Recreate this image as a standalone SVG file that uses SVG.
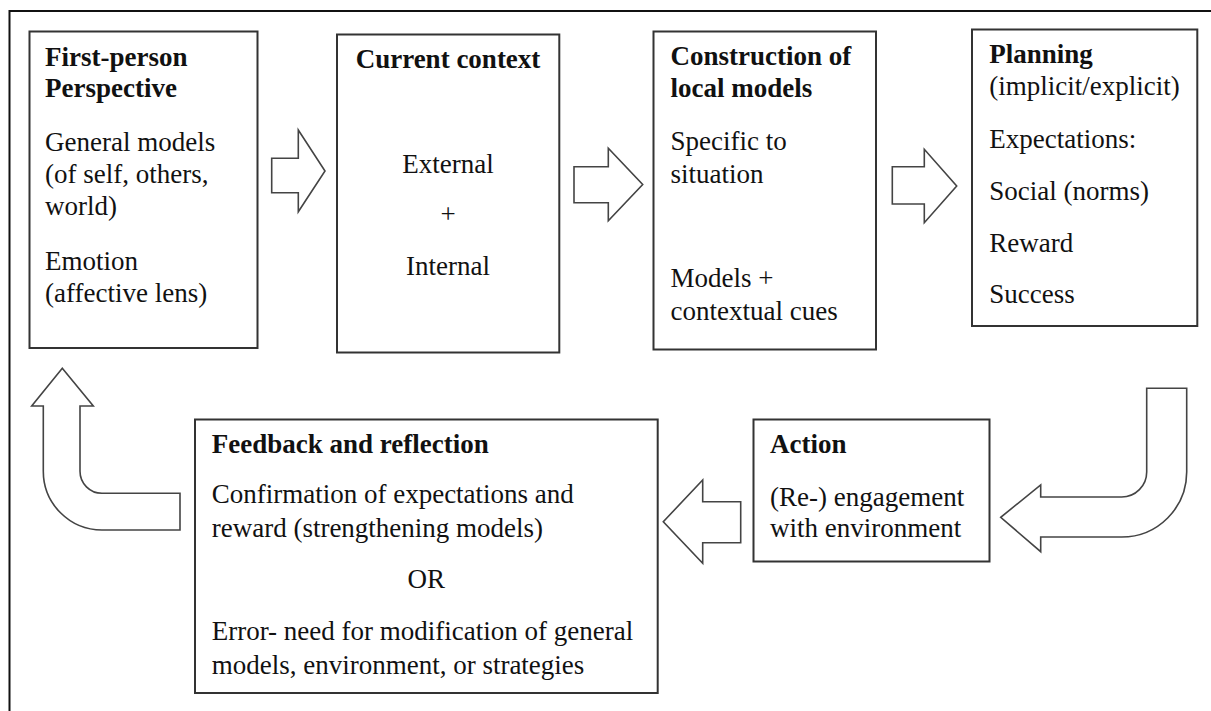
<svg xmlns="http://www.w3.org/2000/svg" width="1211" height="711" viewBox="0 0 1211 711">
<style>
.box{fill:#fff;stroke:#333;stroke-width:2}
.arr{fill:#fff;stroke:#444;stroke-width:1.6;stroke-linejoin:miter}
text{font-family:"Liberation Serif","Times New Roman",serif;font-size:27px;fill:#111}
.b{font-weight:bold}
.c{text-anchor:middle}
</style>
<rect width="1211" height="711" fill="#fff"/>
<path d="M9.5,711 V11 H1211" fill="none" stroke="#111" stroke-width="2"/>
<g id="connectors">
<path class="arr" d="M271.7,158.3 H298.3 V130 L325,171 L298.3,211.7 V192.7 H271.7 Z"/>
<path class="arr" d="M574,166.7 H608.3 V148.3 L642.7,184.5 L608.3,220.7 V202.7 H574 Z"/>
<path class="arr" d="M892.3,166.7 H924.3 V149.3 L956.7,186 L924.3,222.7 V204 H892.3 Z"/>
<path class="arr" d="M1146.7,388.3 H1186.7 V472 A65,65 0 0 1 1121.7,537 H1040.7 V551.7 L1000.7,517.3 L1040.7,485 V497 H1121.7 A25,25 0 0 0 1146.7,472 Z"/>
<path class="arr" d="M740.7,501.7 H702.7 V480 L663.3,521.7 L702.7,563.3 V542.7 H740.7 Z"/>
<path class="arr" d="M180,493.3 V530 H102 A58.7,58.7 0 0 1 43.3,471.3 V406 H31.7 L62.3,368.3 L93.3,406 H80 V471.3 A22,22 0 0 0 102,493.3 Z"/>
</g>
<g id="first-person">
<rect class="box" x="29.5" y="31.5" width="228" height="316.5"/>
<text class="b" x="45" y="66">First-person</text>
<text class="b" x="45" y="97">Perspective</text>
<text x="45" y="151">General models</text>
<text x="45" y="183">(of self, others,</text>
<text x="45" y="215">world)</text>
<text x="45" y="270">Emotion</text>
<text x="45" y="302">(affective lens)</text>
</g>
<g id="current-context">
<rect class="box" x="337" y="34.5" width="222.3" height="318"/>
<text class="b c" x="448" y="68">Current context</text>
<text class="c" x="448" y="173">External</text>
<text class="c" x="448" y="223">+</text>
<text class="c" x="448" y="275">Internal</text>
</g>
<g id="local-models">
<rect class="box" x="653.5" y="31.5" width="222.5" height="318"/>
<text class="b" x="670.5" y="65">Construction of</text>
<text class="b" x="670.5" y="97">local models</text>
<text x="670.5" y="150">Specific to</text>
<text x="670.5" y="183">situation</text>
<text x="670.5" y="287">Models +</text>
<text x="670.5" y="320">contextual cues</text>
</g>
<g id="planning">
<rect class="box" x="972" y="29.5" width="225.3" height="296.5"/>
<text class="b" x="989.3" y="63">Planning</text>
<text x="989.3" y="95">(implicit/explicit)</text>
<text x="989.3" y="148">Expectations:</text>
<text x="989.3" y="200">Social (norms)</text>
<text x="989.3" y="252">Reward</text>
<text x="989.3" y="303">Success</text>
</g>
<g id="action">
<rect class="box" x="753.5" y="419.5" width="236" height="142"/>
<text class="b" x="770" y="453">Action</text>
<text x="770" y="506">(Re-) engagement</text>
<text x="770" y="537">with environment</text>
</g>
<g id="feedback">
<rect class="box" x="195" y="419.5" width="462.7" height="273.5"/>
<text class="b" x="211.7" y="453">Feedback and reflection</text>
<text x="211.7" y="503">Confirmation of expectations and</text>
<text x="211.7" y="537">reward (strengthening models)</text>
<text class="c" x="426.3" y="588">OR</text>
<text x="211.7" y="640">Error- need for modification of general</text>
<text x="211.7" y="674">models, environment, or strategies</text>
</g>
</svg>
